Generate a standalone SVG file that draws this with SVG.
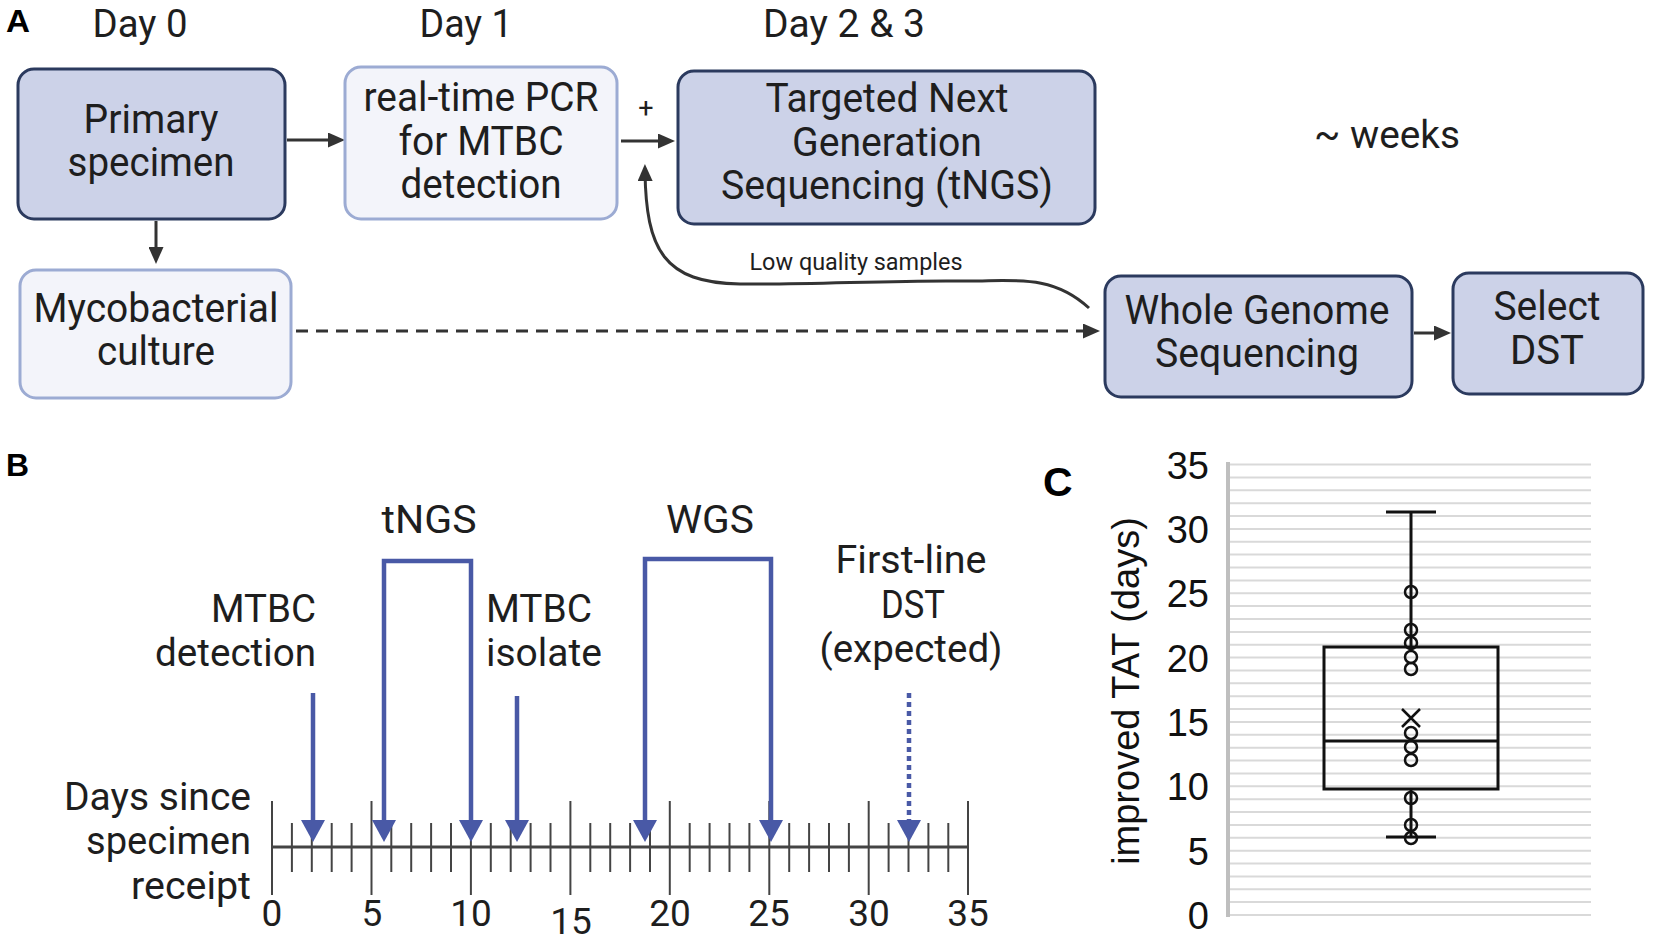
<svg xmlns="http://www.w3.org/2000/svg" width="1654" height="941" viewBox="0 0 1654 941">
<style>
.t{font-family:Roboto,"Liberation Sans",sans-serif;fill:#1e1e1e}
.bx{font-size:40px;text-anchor:middle}
.lbl{font-family:"Liberation Sans",Arial,sans-serif;font-weight:bold;fill:#000}
.dark{fill:#ccd2e8;stroke:#2b3a5e;stroke-width:3}
.light{fill:#f3f4fa;stroke:#9cabd3;stroke-width:3}
.con{fill:none;stroke:#333;stroke-width:3}
.blue{fill:none;stroke:#4959a6;stroke-width:4.5}
.tick{stroke:#444;stroke-width:2}
.grid{stroke:#d9d9d9;stroke-width:2}
.c{font-family:"Liberation Sans",Arial,sans-serif;fill:#111}
.bp{fill:none;stroke:#111;stroke-width:3}
</style>
<defs>
<marker id="ahd" markerUnits="userSpaceOnUse" markerWidth="17" markerHeight="15" viewBox="0 0 17 15" refX="10" refY="7.5" orient="auto"><path d="M0,0 L17,7.5 L0,15 z" fill="#333"/></marker>
<marker id="ahb" markerUnits="userSpaceOnUse" markerWidth="22" markerHeight="24" viewBox="0 0 22 24" refX="10" refY="12" orient="auto-start-reverse"><path d="M0,0 L22,12 L0,24 z" fill="#4959a6"/></marker>
</defs>
<rect width="1654" height="941" fill="#fff"/>

<!-- Panel A labels -->
<text class="lbl" x="6" y="32" font-size="31" textLength="24" lengthAdjust="spacingAndGlyphs">A</text>
<text class="t" x="140" y="37" font-size="38" text-anchor="middle" textLength="95" lengthAdjust="spacingAndGlyphs">Day 0</text>
<text class="t" x="466" y="37" font-size="38" text-anchor="middle" textLength="93" lengthAdjust="spacingAndGlyphs">Day 1</text>
<text class="t" x="844" y="37" font-size="38" text-anchor="middle" textLength="162" lengthAdjust="spacingAndGlyphs">Day 2 &amp; 3</text>
<text class="t" x="1387" y="148" font-size="38" text-anchor="middle" textLength="146" lengthAdjust="spacingAndGlyphs">~ weeks</text>

<g id="connectors">
<line class="con" x1="287" y1="140" x2="338" y2="140" marker-end="url(#ahd)"/>
<line class="con" x1="156" y1="221" x2="156" y2="257" marker-end="url(#ahd)"/>
<line class="con" x1="621" y1="141" x2="668" y2="141" marker-end="url(#ahd)"/>
<path class="con" d="M1089,308 C1050,272 1010,282 960,281 C900,280 800,285 740,284 C664,283 646,250 645,171" marker-end="url(#ahd)"/>
<line class="con" x1="296" y1="331" x2="1093" y2="331" stroke-dasharray="12 8" marker-end="url(#ahd)"/>
<line class="con" x1="1414" y1="333" x2="1444" y2="333" marker-end="url(#ahd)"/>
<text class="t" x="646" y="117" font-size="27" text-anchor="middle">+</text>
<text class="t" x="856" y="270" font-size="23" text-anchor="middle" textLength="213" lengthAdjust="spacingAndGlyphs">Low quality samples</text>
</g>

<g id="primary">
<rect class="dark" x="18" y="69" width="267" height="150" rx="16"/>
<text class="t bx" x="151" y="133" textLength="135" lengthAdjust="spacingAndGlyphs">Primary</text>
<text class="t bx" x="151" y="176" textLength="167" lengthAdjust="spacingAndGlyphs">specimen</text>
</g>
<g id="pcr">
<rect class="light" x="345" y="67" width="272" height="152" rx="16"/>
<text class="t bx" x="481" y="111" textLength="235" lengthAdjust="spacingAndGlyphs">real-time PCR</text>
<text class="t bx" x="481" y="155" textLength="165" lengthAdjust="spacingAndGlyphs">for MTBC</text>
<text class="t bx" x="481" y="198" textLength="161" lengthAdjust="spacingAndGlyphs">detection</text>
</g>
<g id="tngs">
<rect class="dark" x="678" y="71" width="417" height="153" rx="16"/>
<text class="t bx" x="887" y="112" textLength="243" lengthAdjust="spacingAndGlyphs">Targeted Next</text>
<text class="t bx" x="887" y="156" textLength="190" lengthAdjust="spacingAndGlyphs">Generation</text>
<text class="t bx" x="887" y="199" textLength="332" lengthAdjust="spacingAndGlyphs">Sequencing (tNGS)</text>
</g>
<g id="culture">
<rect class="light" x="20" y="270" width="271" height="128" rx="16"/>
<text class="t bx" x="156" y="322" textLength="245" lengthAdjust="spacingAndGlyphs">Mycobacterial</text>
<text class="t bx" x="156" y="365" textLength="118" lengthAdjust="spacingAndGlyphs">culture</text>
</g>
<g id="wgs">
<rect class="dark" x="1105" y="276" width="307" height="121" rx="16"/>
<text class="t bx" x="1257" y="324" textLength="265" lengthAdjust="spacingAndGlyphs">Whole Genome</text>
<text class="t bx" x="1257" y="367" textLength="204" lengthAdjust="spacingAndGlyphs">Sequencing</text>
</g>
<g id="dst">
<rect class="dark" x="1453" y="273" width="190" height="121" rx="16"/>
<text class="t bx" x="1547" y="320" textLength="107" lengthAdjust="spacingAndGlyphs">Select</text>
<text class="t bx" x="1547" y="364" textLength="74" lengthAdjust="spacingAndGlyphs">DST</text>
</g>

<!-- Panel B -->
<g id="panelB">
<text class="lbl" x="6" y="476" font-size="31" textLength="23" lengthAdjust="spacingAndGlyphs">B</text>
<line x1="272" y1="847" x2="968" y2="847" stroke="#444" stroke-width="3"/>
<g class="tick">
<line x1="272" y1="801" x2="272" y2="895"/><line x1="371.5" y1="801" x2="371.5" y2="895"/><line x1="470.9" y1="801" x2="470.9" y2="895"/><line x1="570.4" y1="801" x2="570.4" y2="895"/><line x1="669.8" y1="801" x2="669.8" y2="895"/><line x1="769.3" y1="801" x2="769.3" y2="895"/><line x1="868.7" y1="801" x2="868.7" y2="895"/><line x1="968" y1="801" x2="968" y2="895"/>
<line x1="291.9" y1="823" x2="291.9" y2="872"/><line x1="311.8" y1="823" x2="311.8" y2="872"/><line x1="331.7" y1="823" x2="331.7" y2="872"/><line x1="351.6" y1="823" x2="351.6" y2="872"/>
<line x1="391.3" y1="823" x2="391.3" y2="872"/><line x1="411.2" y1="823" x2="411.2" y2="872"/><line x1="431.1" y1="823" x2="431.1" y2="872"/><line x1="451" y1="823" x2="451" y2="872"/>
<line x1="490.8" y1="823" x2="490.8" y2="872"/><line x1="510.7" y1="823" x2="510.7" y2="872"/><line x1="530.6" y1="823" x2="530.6" y2="872"/><line x1="550.5" y1="823" x2="550.5" y2="872"/>
<line x1="590.3" y1="823" x2="590.3" y2="872"/><line x1="610.2" y1="823" x2="610.2" y2="872"/><line x1="630.1" y1="823" x2="630.1" y2="872"/><line x1="650" y1="823" x2="650" y2="872"/>
<line x1="689.7" y1="823" x2="689.7" y2="872"/><line x1="709.6" y1="823" x2="709.6" y2="872"/><line x1="729.5" y1="823" x2="729.5" y2="872"/><line x1="749.4" y1="823" x2="749.4" y2="872"/>
<line x1="789.2" y1="823" x2="789.2" y2="872"/><line x1="809.1" y1="823" x2="809.1" y2="872"/><line x1="829" y1="823" x2="829" y2="872"/><line x1="848.9" y1="823" x2="848.9" y2="872"/>
<line x1="888.6" y1="823" x2="888.6" y2="872"/><line x1="908.5" y1="823" x2="908.5" y2="872"/><line x1="928.4" y1="823" x2="928.4" y2="872"/><line x1="948.3" y1="823" x2="948.3" y2="872"/>
</g>
<g class="t" font-size="37" text-anchor="middle">
<text x="272" y="926">0</text><text x="372" y="926">5</text><text x="471" y="926">10</text><text x="571" y="934">15</text><text x="670" y="926">20</text><text x="769" y="926">25</text><text x="869" y="926">30</text><text x="968" y="926">35</text>
</g>
<g class="t" font-size="39" text-anchor="end">
<text x="251" y="810" textLength="187" lengthAdjust="spacingAndGlyphs">Days since</text>
<text x="251" y="854" textLength="165" lengthAdjust="spacingAndGlyphs">specimen</text>
<text x="251" y="899" textLength="120" lengthAdjust="spacingAndGlyphs">receipt</text>
<text x="316" y="622" textLength="105" lengthAdjust="spacingAndGlyphs">MTBC</text>
<text x="316" y="666" textLength="161" lengthAdjust="spacingAndGlyphs">detection</text>
</g>
<g class="t" font-size="39" text-anchor="start">
<text x="486" y="622" textLength="106" lengthAdjust="spacingAndGlyphs">MTBC</text>
<text x="486" y="666" textLength="116" lengthAdjust="spacingAndGlyphs">isolate</text>
</g>
<g class="t" font-size="39" text-anchor="middle">
<text x="429" y="533" textLength="95" lengthAdjust="spacingAndGlyphs">tNGS</text>
<text x="710" y="533" textLength="88" lengthAdjust="spacingAndGlyphs">WGS</text>
<text x="911" y="573" textLength="151" lengthAdjust="spacingAndGlyphs">First-line</text>
<text x="913" y="618" textLength="64" lengthAdjust="spacingAndGlyphs">DST</text>
<text x="911" y="662" textLength="183" lengthAdjust="spacingAndGlyphs">(expected)</text>
</g>
<line class="blue" x1="313" y1="693" x2="313" y2="830" marker-end="url(#ahb)"/>
<path class="blue" d="M384,830 L384,561 L471,561 L471,830" marker-start="url(#ahb)" marker-end="url(#ahb)"/>
<line class="blue" x1="517" y1="696" x2="517" y2="830" marker-end="url(#ahb)"/>
<path class="blue" d="M645,830 L645,559 L771,559 L771,830" marker-start="url(#ahb)" marker-end="url(#ahb)"/>
<line class="blue" x1="909" y1="693" x2="909" y2="830" stroke-dasharray="5 4" stroke-width="3.5" marker-end="url(#ahb)"/>
</g>

<!-- Panel C -->
<g id="panelC">
<text class="lbl" x="1043" y="496" font-size="41">C</text>
<g class="grid">
<line x1="1228" y1="915" x2="1591" y2="915"/><line x1="1228" y1="902.1" x2="1591" y2="902.1"/><line x1="1228" y1="889.3" x2="1591" y2="889.3"/><line x1="1228" y1="876.4" x2="1591" y2="876.4"/><line x1="1228" y1="863.5" x2="1591" y2="863.5"/><line x1="1228" y1="850.7" x2="1591" y2="850.7"/><line x1="1228" y1="837.8" x2="1591" y2="837.8"/><line x1="1228" y1="824.9" x2="1591" y2="824.9"/><line x1="1228" y1="812" x2="1591" y2="812"/><line x1="1228" y1="799.2" x2="1591" y2="799.2"/><line x1="1228" y1="786.3" x2="1591" y2="786.3"/><line x1="1228" y1="773.4" x2="1591" y2="773.4"/><line x1="1228" y1="760.6" x2="1591" y2="760.6"/><line x1="1228" y1="747.7" x2="1591" y2="747.7"/><line x1="1228" y1="734.8" x2="1591" y2="734.8"/><line x1="1228" y1="721.9" x2="1591" y2="721.9"/><line x1="1228" y1="709.1" x2="1591" y2="709.1"/><line x1="1228" y1="696.2" x2="1591" y2="696.2"/><line x1="1228" y1="683.3" x2="1591" y2="683.3"/><line x1="1228" y1="670.5" x2="1591" y2="670.5"/><line x1="1228" y1="657.6" x2="1591" y2="657.6"/><line x1="1228" y1="644.7" x2="1591" y2="644.7"/><line x1="1228" y1="631.9" x2="1591" y2="631.9"/><line x1="1228" y1="619" x2="1591" y2="619"/><line x1="1228" y1="606.1" x2="1591" y2="606.1"/><line x1="1228" y1="593.3" x2="1591" y2="593.3"/><line x1="1228" y1="580.4" x2="1591" y2="580.4"/><line x1="1228" y1="567.5" x2="1591" y2="567.5"/><line x1="1228" y1="554.6" x2="1591" y2="554.6"/><line x1="1228" y1="541.8" x2="1591" y2="541.8"/><line x1="1228" y1="528.9" x2="1591" y2="528.9"/><line x1="1228" y1="516" x2="1591" y2="516"/><line x1="1228" y1="503.2" x2="1591" y2="503.2"/><line x1="1228" y1="490.3" x2="1591" y2="490.3"/><line x1="1228" y1="477.4" x2="1591" y2="477.4"/><line x1="1228" y1="464.6" x2="1591" y2="464.6"/>
</g>
<line x1="1228" y1="462" x2="1228" y2="917" stroke="#bfbfbf" stroke-width="4"/>
<g class="c" font-size="38" text-anchor="end">
<text x="1209" y="929">0</text><text x="1209" y="864.6">5</text><text x="1209" y="800.3">10</text><text x="1209" y="735.9">15</text><text x="1209" y="671.6">20</text><text x="1209" y="607.3">25</text><text x="1209" y="542.9">30</text><text x="1209" y="478.6">35</text>
</g>
<text class="c" font-size="38" text-anchor="middle" transform="translate(1139,691) rotate(-90)">improved TAT (days)</text>
<g class="bp">
<rect x="1324" y="647" width="174" height="142"/>
<line x1="1324" y1="741" x2="1498" y2="741"/>
<line x1="1411" y1="512" x2="1411" y2="647"/>
<line x1="1411" y1="789" x2="1411" y2="837"/>
<line x1="1386" y1="512" x2="1436" y2="512"/>
<line x1="1386" y1="837" x2="1436" y2="837"/>
<path d="M1402,709 L1420,727 M1420,709 L1402,727" stroke-width="2.5"/>
<g stroke-width="2.5">
<circle cx="1411" cy="592" r="6"/><circle cx="1411" cy="630" r="6"/><circle cx="1411" cy="643" r="6"/><circle cx="1411" cy="657" r="6"/><circle cx="1411" cy="669" r="6"/><circle cx="1411" cy="733" r="6"/><circle cx="1411" cy="747" r="6"/><circle cx="1411" cy="760" r="6"/><circle cx="1411" cy="798" r="6"/><circle cx="1411" cy="825" r="6"/><circle cx="1411" cy="838" r="6"/>
</g>
</g>
</g>
</svg>
